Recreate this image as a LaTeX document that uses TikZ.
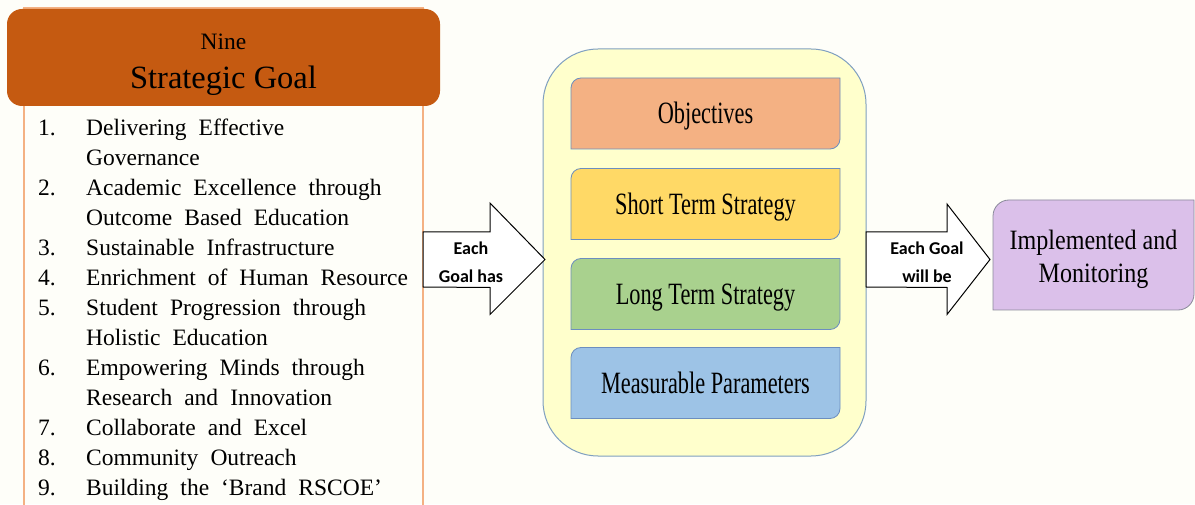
\documentclass[tikz,border=0pt]{standalone}
\usepackage{fontspec}
\setmainfont{Liberation Serif}
\newfontfamily\tnr{Liberation Serif}
\newfontfamily\condserif[FakeStretch=0.72]{Liberation Serif}
\newfontfamily\semicond[FakeStretch=0.86]{Liberation Serif}
\newfontfamily\calibri{Carlito}
\pgfdeclarelayer{bg}
\pgfdeclarelayer{mid}
\pgfsetlayers{bg,mid,main}
\definecolor{pagebg}{HTML}{FEFEF9}
\definecolor{hdrfill}{HTML}{C55A11}
\definecolor{listline}{HTML}{F4B183}
\definecolor{goalfill}{HTML}{FFFFCC}
\definecolor{goalline}{HTML}{7F9FC0}
\definecolor{objfill}{HTML}{F4B183}
\definecolor{stsfill}{HTML}{FFD966}
\definecolor{ltsfill}{HTML}{A9D18E}
\definecolor{mpfill}{HTML}{9DC3E6}
\definecolor{implfill}{HTML}{DBC0EA}
\definecolor{implline}{HTML}{8A8A9A}
\definecolor{boxline}{HTML}{6C8EBF}
\newcommand\diagshape[3]{%
  \begin{pgfonlayer}{mid}
  \draw[#3] ([yshift=-#2]#1.north west) arc[start angle=180,end angle=90,radius=#2]
    -- (#1.north east) -- ([yshift=#2]#1.south east)
    arc[start angle=0,end angle=-90,radius=#2] -- (#1.south west) -- cycle;
  \end{pgfonlayer}}
\begin{document}
\begin{tikzpicture}[x=1pt,y=1pt,
  hdrbox/.style={rounded corners=15pt, fill=hdrfill, minimum width=433pt, minimum height=97pt, inner sep=0pt, outer sep=0pt},
  goalbox/.style={rounded corners=55pt, fill=goalfill, draw=goalline, line width=1pt, minimum width=323pt, minimum height=407pt, inner sep=0pt, outer sep=0pt},
  inbox/.style={minimum width=269pt, minimum height=71pt, inner sep=0pt, outer sep=0pt, text height=28pt, text depth=7pt, font=\condserif\fontsize{31}{36}\selectfont},
  inshape/.style={draw=boxline, line width=0.8pt},
  blockarrow/.style={draw=black, fill=white, line width=1pt, line join=miter},
  arrowtext/.style={font=\calibri\bfseries\fontsize{18}{28}\selectfont, align=center, inner sep=0pt},
  impltext/.style={font=\semicond\fontsize{28}{33}\selectfont, align=center, inner sep=0pt}
]
\useasboundingbox (0,0) rectangle (1195,504);
\begin{pgfonlayer}{bg}
  \fill[pagebg] (0,0) rectangle (1195,504);
  \draw[listline, line width=1.3pt] (24,-5) -- (24,496) -- (423,496) -- (423,-5);
  \node[goalbox] (goal) at (704.5,251.5) {};
\end{pgfonlayer}

% header
\node[hdrbox] (hdr) at (223.5,446.5) {};
\node[anchor=base, inner sep=0pt, font=\tnr\fontsize{23.5}{28}\selectfont] (nine) at (223.5,454) {Nine};
\node[anchor=base, inner sep=0pt, font=\tnr\fontsize{32.5}{38}\selectfont] (sg) at (223.5,415) {Strategic Goal};

% list
\node[anchor=north west, inner sep=0pt, font=\tnr\fontsize{23.5}{30}\selectfont] (list) at (38,390)
{\spaceskip=12pt\begin{tabular}{@{}p{48pt}@{}l@{}}
1. & Delivering Effective\\
   & Governance\\
2. & Academic Excellence through\\
   & Outcome Based Education\\
3. & Sustainable Infrastructure\\
4. & Enrichment of Human Resource\\
5. & Student Progression through\\
   & Holistic Education\\
6. & Empowering Minds through\\
   & Research and Innovation\\
7. & Collaborate and Excel\\
8. & Community Outreach\\
9. & Building the ‘Brand RSCOE’
\end{tabular}};

% inner boxes
\node[inbox] (obj) at (705.5,390.5) {Objectives};
\node[inbox] (sts) at (705.5,300) {Short Term Strategy};
\node[inbox] (lts) at (705.5,210) {Long Term Strategy};
\node[inbox] (mp)  at (705.5,121) {Measurable Parameters};
\diagshape{obj}{10pt}{inshape, fill=objfill}
\diagshape{sts}{10pt}{inshape, fill=stsfill}
\diagshape{lts}{10pt}{inshape, fill=ltsfill}
\diagshape{mp}{10pt}{inshape, fill=mpfill}

% implemented box
\node[minimum width=201pt, minimum height=110pt, inner sep=0pt, outer sep=0pt] (impl) at (1093.5,249) {};
\diagshape{impl}{16pt}{draw=implline, line width=0.8pt, fill=implfill}
\node[impltext] (implt) at (1093.5,245) {Implemented and\\Monitoring};

% block arrows
\coordinate (a1tail) at (423,244.5);
\coordinate (a2tail) at (goal.east |- a1tail);
\draw[blockarrow] ([yshift=27.5pt]a1tail) -- ++(67,0) -- ++(0,29) -- ([xshift=2pt]goal.west |- a1tail)
  -- ([xshift=67pt,yshift=-55pt]a1tail) -- ++(0,27) -- ([yshift=-27.5pt]a1tail) -- cycle;
\draw[blockarrow] ([yshift=27.5pt]a2tail) -- ++(81,0) -- ++(0,28) -- ([xshift=-3pt]impl.west |- a2tail)
  -- ([xshift=81pt,yshift=-55pt]a2tail) -- ++(0,27) -- ([yshift=-27.5pt]a2tail) -- cycle;
\node[arrowtext] (t1) at (471,241.5) {Each\\Goal has};
\node[arrowtext] (t2) at (927,241.5) {Each Goal\\will be};
\end{tikzpicture}
\end{document}
